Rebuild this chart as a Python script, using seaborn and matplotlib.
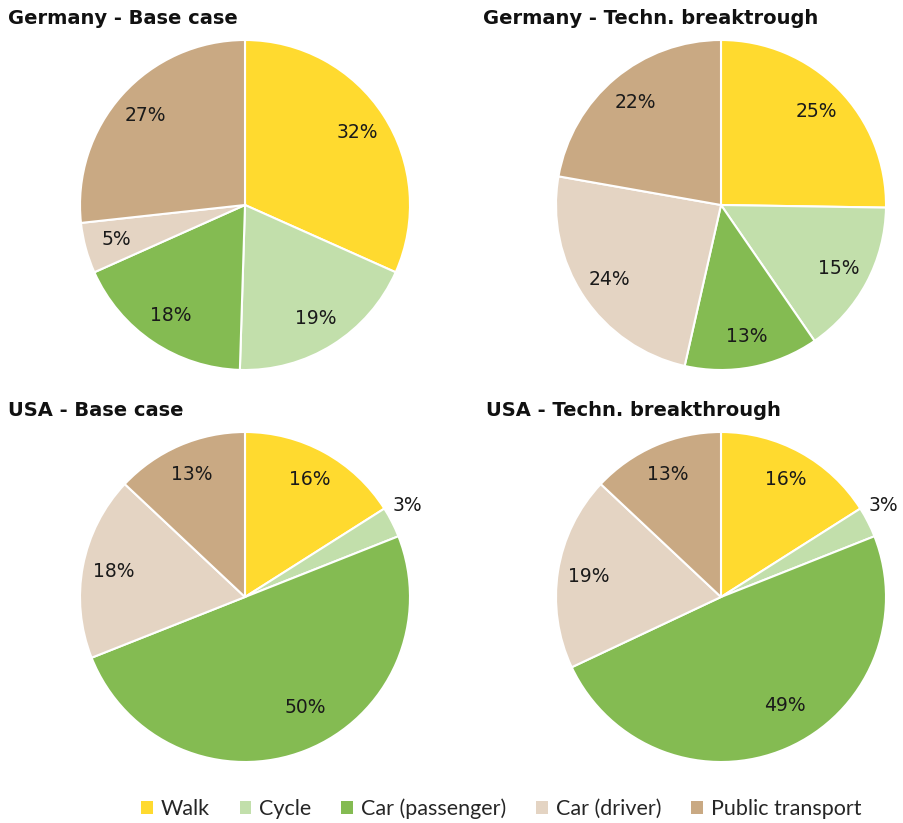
import matplotlib
matplotlib.use("Agg")
import matplotlib.pyplot as plt
import matplotlib.patches as mpatches
import numpy as np
import pandas as pd
import seaborn as sns

categories = ["Walk", "Cycle", "Car (passenger)", "Car (driver)", "Public transport"]
germany_base = [32, 19, 18, 5, 27]
germany_tech = [25, 15, 13, 24, 22]
usa_base = [16, 3, 50, 18, 13]
usa_tech = [16, 3, 49, 19, 13]
titles = ["Germany - Base case", "Germany - Techn. breaktrough",
          "USA - Base case", "USA - Techn. breakthrough"]

df = pd.DataFrame({"category": categories,
                   titles[0]: germany_base, titles[1]: germany_tech,
                   titles[2]: usa_base, titles[3]: usa_tech})

sns.set_theme(style="white")
plt.rcParams["font.family"] = ["DejaVu Sans"]
palette = sns.color_palette(["#FFDA2F", "#C2DFAB", "#84BB52", "#E4D4C3", "#C9A983"])

W, H = 904, 823
fig = plt.figure(figsize=(W / 100, H / 100), dpi=100)
fig.patch.set_facecolor("white")

R = 165
half = 206
centers = [(245, 205), (721, 205), (245, 597), (721, 597)]
title_pos = [(8, 18), (483, 18), (8, 410), (486, 410)]

for title, (cx, cy), (tx, ty) in zip(titles, centers, title_pos):
    ax = fig.add_axes([(cx - half) / W, 1 - (cy + half) / H, 2 * half / W, 2 * half / H])
    vals = df[title].to_numpy()
    wedges, _ = ax.pie(vals, colors=palette, startangle=90, counterclock=False,
                       radius=1.0, wedgeprops=dict(edgecolor="white", linewidth=1.5))
    lim = half / R
    ax.set_xlim(-lim, lim)
    ax.set_ylim(-lim, lim)
    ax.set_aspect("equal")
    ax.axis("off")
    for w, v in zip(wedges, vals):
        mid = (w.theta1 + w.theta2) / 2
        if v >= 45:
            mid += 7
        if v < 4:
            mid += 2.5
        ang = np.deg2rad(mid)
        d = 1.13 if v < 4 else (0.76 if v >= 45 else 0.81)
        ax.text(d * np.cos(ang), d * np.sin(ang), f"{v}%", ha="center", va="center",
                fontsize=13.5, color="#1a1a1a")
    fig.text(tx / W, 1 - ty / H, title, ha="left", va="center", fontsize=14,
             fontweight="bold", color="#111111")

handles = [mpatches.Patch(facecolor=c, edgecolor="none", label=l) for c, l in zip(palette, categories)]
fig.legend(handles=handles, loc="center", bbox_to_anchor=(501 / W, 1 - 809 / H), ncol=5,
           frameon=False, handlelength=0.55, handleheight=0.55,
           handletextpad=0.35, columnspacing=1.4,
           prop={"family": ["Lato", "DejaVu Sans"], "size": 15.5})

fig.savefig("out.png", dpi=100, facecolor="white")
